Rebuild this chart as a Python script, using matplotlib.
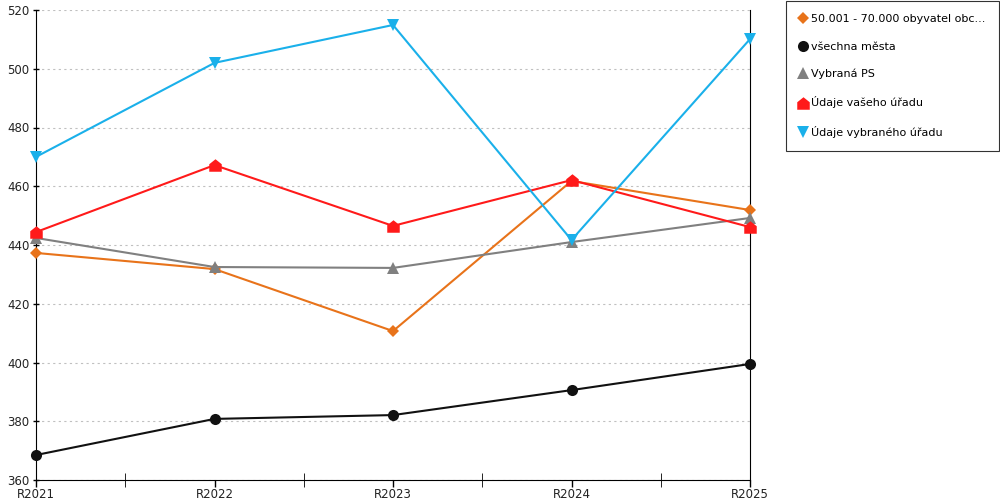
import matplotlib
matplotlib.use("Agg")
import matplotlib.pyplot as plt
from matplotlib.path import Path
import numpy as np

categories = ["R2021", "R2022", "R2023", "R2024", "R2025"]
s_obce = [437.3, 431.8, 410.7, 461.8, 451.9]
s_mesta = [368.5, 380.8, 382.1, 390.6, 399.5]
s_ps = [442.4, 432.5, 432.2, 441.0, 449.2]
s_vas = [444.4, 467.2, 446.5, 462.1, 446.1]
s_vybr = [470.0, 502.0, 514.9, 441.7, 510.1]
labels = ["50.001 - 70.000 obyvatel obc...", "všechna města", "Vybraná PS",
          "Údaje vašeho úřadu", "Údaje vybraného úřadu"]
yticks = [360, 380, 400, 420, 440, 460, 480, 500, 520]

house = Path([(-1, -1), (1, -1), (1, 0.2), (0, 1), (-1, 0.2), (-1, -1)],
             [Path.MOVETO, Path.LINETO, Path.LINETO, Path.LINETO, Path.LINETO, Path.CLOSEPOLY])

plt.rcParams['font.family'] = ['DejaVu Sans']
fig = plt.figure(figsize=(10, 5), dpi=100)
ax = fig.add_axes([0.036, 0.04, 0.714, 0.94])

x = np.arange(len(categories))
series = [
    (s_obce, "#e8731a", "D", 6),
    (s_mesta, "#111111", "o", 8),
    (s_ps, "#808080", "^", 8),
    (s_vas, "#ff1a1a", house, 9),
    (s_vybr, "#1ab0ea", "v", 8),
]
for (vals, col, mk, ms), lab in zip(series, labels):
    ax.plot(x, vals, color=col, lw=1.5, marker=mk, markersize=ms,
            markeredgewidth=0, label=lab, clip_on=False, zorder=3)

ax.set_xlim(0, len(categories) - 1)
ax.set_ylim(360, 520)
ax.set_yticks(yticks)
ax.set_xticks(x)
ax.set_xticklabels(categories)
ax.set_xticks(x[:-1] + 0.5, minor=True)
ax.yaxis.grid(True, color="#c0c0c0", linestyle=(0, (2, 3)), lw=0.8)
ax.set_axisbelow(True)
ax.spines["top"].set_visible(False)
ax.spines["right"].set_color("black")
ax.tick_params(axis="both", labelsize=8.5, colors="black", length=5, width=1)
ax.tick_params(axis="y", direction="inout", pad=2)
ax.tick_params(axis="x", which="major", direction="out", pad=1)
ax.tick_params(axis="x", which="minor", direction="inout", length=10)
for t in ax.get_xticklabels() + ax.get_yticklabels():
    t.set_color("#222222")

leg = fig.legend(*ax.get_legend_handles_labels(), loc="upper left",
                 bbox_to_anchor=(0.786, 0.998), frameon=True,
                 fontsize=8, handlelength=0.7, handletextpad=0.35, borderpad=1.2,
                 labelspacing=1.55, fancybox=False, edgecolor="black",
                 borderaxespad=0)
leg.get_frame().set_linewidth(0.8)
for h in leg.legend_handles:
    h.set_linestyle("None")

fig.savefig("out.png", dpi=100)
